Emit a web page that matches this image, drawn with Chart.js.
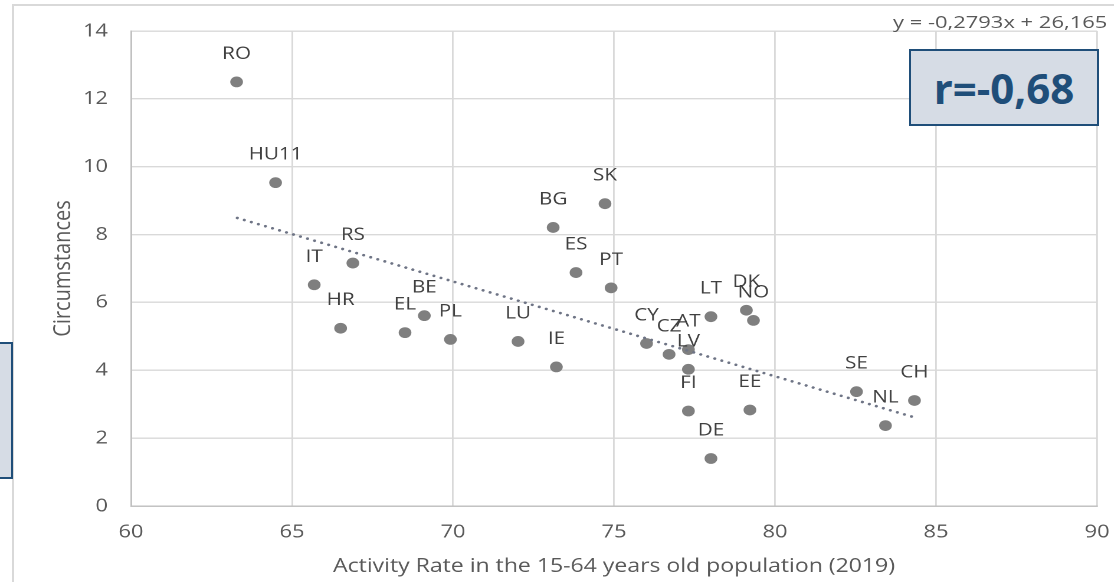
<!DOCTYPE html>
<html>
<head>
<meta charset="utf-8">
<script src="https://cdn.jsdelivr.net/npm/chart.js@4.4.1/dist/chart.umd.min.js"></script>
<style>
html,body{margin:0;padding:0;background:#fff;overflow:hidden;}
#wrap{position:relative;width:1114px;height:582px;overflow:hidden;}
#frame{position:absolute;left:12px;top:4px;width:1200px;height:700px;border-top:2px solid #d9d9d9;border-left:2px solid #d9d9d9;}
/* the original picture is a bit wider than tall, so the chart is stretched sideways */
#chart{position:absolute;left:0;top:0;transform:scaleX(1.18);transform-origin:0 0;}
#sideBox{position:absolute;left:-10px;top:342px;width:19px;height:133px;background:#d6dce5;border:2px solid #1f4e79;}
#rBox{position:absolute;left:909px;top:49px;width:186px;height:73px;background:#d6dce5;border:2px solid #1f4e79;
  font:bold 42px 'Open Sans',sans-serif;color:#1f4e79;display:flex;align-items:center;justify-content:center;}
#eq{position:absolute;left:893px;top:10px;font:16.5px 'Open Sans',sans-serif;color:#595959;line-height:23px;
  transform:scaleX(1.33);transform-origin:0 50%;white-space:nowrap;}
</style>
</head>
<body>
<div id="wrap">
  <div id="frame"></div>
  <canvas id="chart" width="944" height="582"></canvas>
  <div id="sideBox"></div>
  <div id="rBox">r=-0,68</div>
  <div id="eq">y = -0,2793x + 26,165</div>
</div>
<script>
// values
const countries = ["RO","HU11","RS","IT","HR","EL","BE","PL","LU","IE","SK","BG","ES","PT",
  "CY","CZ","AT","LV","LT","DK","NO","FI","EE","DE","SE","NL","CH"];
const activityRate = [63.28,64.49,66.89,65.69,66.51,68.51,69.11,69.92,72.02,73.21,74.72,73.11,73.82,74.91,
  76.01,76.71,77.31,77.31,78.01,79.11,79.33,77.31,79.22,78.01,82.53,83.43,84.33];
const circumstances = [12.50,9.53,7.16,6.52,5.24,5.11,5.61,4.91,4.85,4.10,8.91,8.21,6.88,6.43,
  4.79,4.47,4.61,4.03,5.58,5.77,5.47,2.80,2.83,1.40,3.37,2.37,3.11];
const trendX = [63.3, 84.3];
const trendY = [8.49, 2.62];

const xTitle = "Activity Rate in the 15-64 years old population (2019)";
const yTitle = "Circumstances";

Chart.defaults.font.family = "'Open Sans', sans-serif";

const pointLabels = {
  id: "pointLabels",
  afterDatasetsDraw(chart){
    const ctx = chart.ctx;
    const meta = chart.getDatasetMeta(1);
    ctx.save();
    ctx.font = "17.5px 'Open Sans', sans-serif";
    ctx.fillStyle = "#404040";
    ctx.textAlign = "center";
    ctx.textBaseline = "middle";
    meta.data.forEach((pt,i)=>{
      ctx.fillText(countries[i], pt.x, pt.y - 28);
    });
    ctx.restore();
  }
};

const scatterData = activityRate.map((x,i)=>({x:x, y:circumstances[i]}));
const trendData = trendX.map((x,i)=>({x:x, y:trendY[i]}));

new Chart(document.getElementById("chart").getContext("2d"), {
  type: "scatter",
  data: {
    datasets: [
      {data: trendData, showLine: true, pointRadius: 0, borderColor: "#6e7485", borderWidth: 2.6,
       borderDash: [0.1, 6.2], borderCapStyle: "round", order: 0},
      {data: scatterData, pointRadius: 5.4, backgroundColor: "#7f7f7f", borderWidth: 0, order: 1}
    ]
  },
  options: {
    responsive: false,
    devicePixelRatio: 2,
    animation: false,
    events: [],
    layout: {padding: {top: 31, right: 14.3, left: 0, bottom: 0}},
    plugins: {legend: {display: false}, tooltip: {enabled: false}},
    scales: {
      x: {
        type: "linear", min: 60, max: 90,
        afterFit: s => { s.height = 76; s.paddingLeft = 0; s.paddingRight = 0; },
        ticks: {stepSize: 5, color: "#595959", font: {size: 18.5}, padding: 15},
        grid: {color: "#d9d9d9", lineWidth: 1.4, drawTicks: false},
        border: {color: "#bfbfbf", width: 1.4},
        title: {display: true, text: xTitle, color: "#595959", font: {size: 19.5}, padding: {top: 0, bottom: 4}}
      },
      y: {
        min: 0, max: 14,
        afterFit: s => { s.width = 111; s.paddingTop = 0; s.paddingBottom = 0; },
        ticks: {stepSize: 2, color: "#595959", font: {size: 18.5}, padding: 19.5},
        grid: {color: "#d9d9d9", lineWidth: 1.4, drawTicks: false},
        border: {color: "#bfbfbf", width: 1.4},
        title: {display: true, text: yTitle, color: "#595959", font: {size: 20}, padding: {top: 42, bottom: 0}}
      }
    }
  },
  plugins: [pointLabels]
});
</script>
</body>
</html>
